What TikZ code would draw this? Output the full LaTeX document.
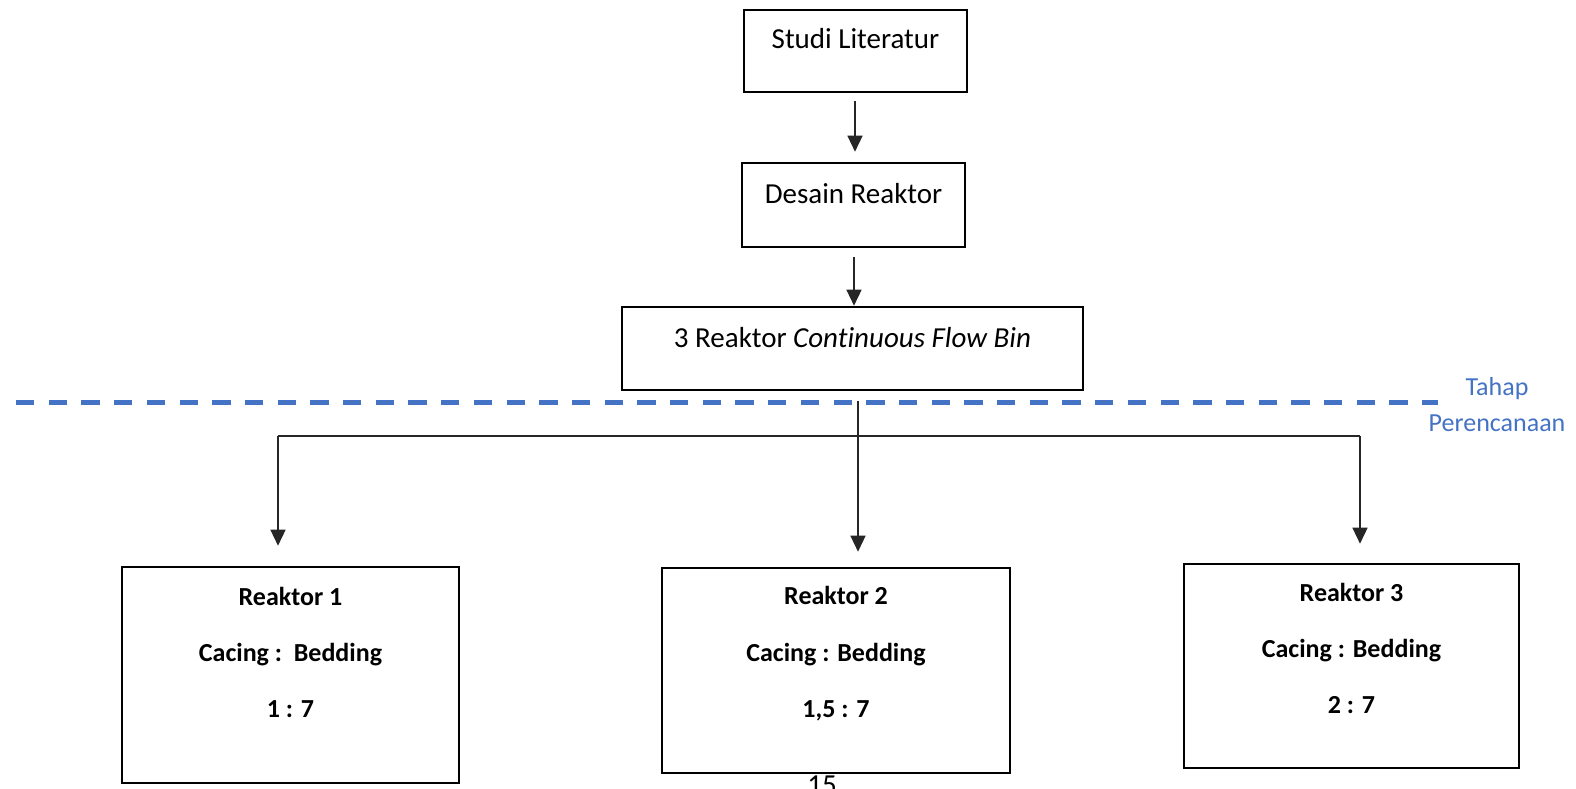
\documentclass[tikz,border=0pt]{standalone}
\usepackage{fontspec}
\setmainfont{Carlito}[Ligatures=NoCommon]
\usetikzlibrary{arrows.meta}
\definecolor{planblue}{HTML}{4472C4}
\tikzset{
  box/.style={draw=black, line width=2.6pt, rectangle, inner sep=0pt},
  toptext/.style={anchor=base, font=\fontsize{29}{35}\selectfont},
  bottext/.style={anchor=base, font=\fontsize{26}{31}\selectfont\bfseries},
  link/.style={draw=black!85, line width=1.4pt},
  arr/.style={link, -{Triangle[width=15pt,length=16pt]}},
  stage/.style={draw=planblue, line width=4.2pt, dash pattern=on 18.3pt off 14.4pt},
  stagetext/.style={anchor=base, text=planblue, font=\fontsize{26}{31}\selectfont}
}
\begin{document}
\begin{tikzpicture}[x=1pt, y=-1pt]
\useasboundingbox (0,0) rectangle (1576,789);

% planning stage boxes
\node[box, minimum width=223pt, minimum height=82pt] (lit) at (855.5,51) {};
\node[toptext] (littxt) at (855.5,49) {Studi Literatur};
\node[box, minimum width=223pt, minimum height=84pt] (des) at (853.5,205) {};
\node[toptext] (destxt) at (853.5,203) {Desain Reaktor};
\node[box, minimum width=461pt, minimum height=83pt] (cfb) at (852.5,348.5) {};
\node[toptext] (cfbtxt) at (852.5,347) {3 Reaktor \textit{Cont\kern0pt inuous Flow Bin}};

\draw[arr, shorten <=8pt, shorten >=10pt] (lit.south -| 855,0) -- (des.north -| 855,0);
\draw[arr, shorten <=9pt] (des.south -| 854,0) -- (cfb.north -| 854,0);

% stage boundary
\coordinate (sl) at (16,402.5);
\coordinate (sr) at (1438,402.5);
\draw[stage] (sl) -- (sr);
\node[stagetext] (tahap) at (1497,395) {Tahap};
\node[stagetext] (peren) at (1497,431) {Perencanaan};

% reactor variants
\node[box, minimum width=337pt, minimum height=216pt] (r1) at (290.5,675) {};
\node[bottext] (r1a) at (290.5,605) {Reaktor 1};
\node[bottext] (r1b) at (290.5,661) {Cacing :\ \ Bedding};
\node[bottext] (r1c) at (290.5,717) {1 : 7};

\node[box, minimum width=348pt, minimum height=205pt] (r2) at (836,670.5) {};
\node[bottext] (r2a) at (836,604) {Reaktor 2};
\node[bottext] (r2b) at (836,661) {Cacing : Bedding};
\node[bottext] (r2c) at (836,717) {1,5 : 7};

\node[box, minimum width=335pt, minimum height=204pt] (r3) at (1351.5,666) {};
\node[bottext] (r3a) at (1351.5,601) {Reaktor 3};
\node[bottext] (r3b) at (1351.5,657) {Cacing : Bedding};
\node[bottext] (r3c) at (1351.5,713) {2 : 7};

% branching connectors
\coordinate (bl) at (278,436);
\coordinate (br) at (1360,436);
\draw[link] (bl) -- (br);
\draw[arr, shorten >=20pt] (bl) -- (bl |- r1.north);
\draw[arr, shorten >=19pt] (br) -- (br |- r3.north);
\draw[arr, shorten <=10pt, shorten >=15pt] (cfb.south -| 858,0) -- (r2.north -| 858,0);

% page number
\node[anchor=base, font=\fontsize{29}{35}\selectfont] (pg) at (822,794) {15};
\end{tikzpicture}
\end{document}
